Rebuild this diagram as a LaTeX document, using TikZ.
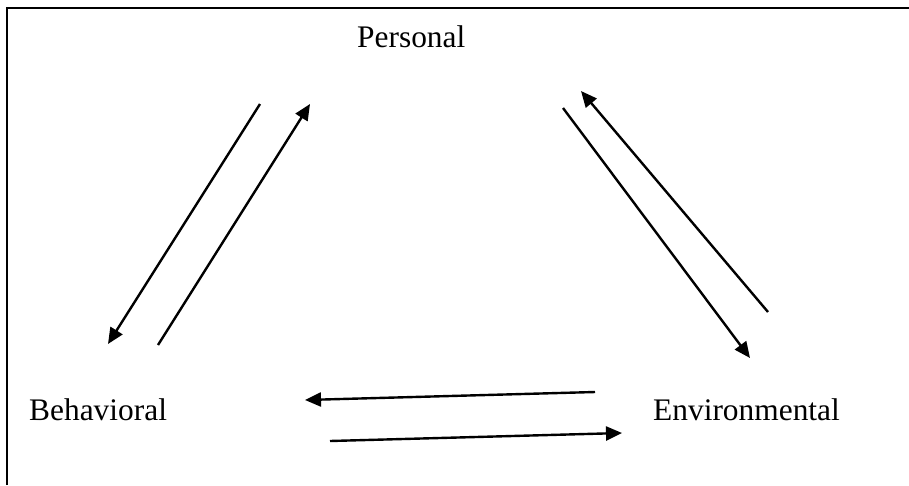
\documentclass[tikz,border=0pt]{standalone}
\usepackage{fontspec}
\setmainfont{Liberation Serif}
\usetikzlibrary{arrows.meta}
\begin{document}
\begin{tikzpicture}[x=1pt,y=-1pt,
  lbl/.style={anchor=base west,inner sep=0pt,font=\fontsize{31.4}{36}\selectfont},
  arr/.style={line width=2.4pt,-{Triangle[length=16pt,width=14pt]}},
  frame/.style={line width=2.4pt}]
\useasboundingbox (0,0) rectangle (909,485);
\draw[frame] (7,485) -- (7,8) -- (909,8);
\node[lbl] (per) at (357,47) {Personal};
\node[lbl] (beh) at (29,420) {Behavioral};
\node[lbl] (env) at (653,420) {Environmental};
% left pair
\coordinate (a1s) at (260,104); \coordinate (a1e) at (108,344);
\coordinate (a2s) at (158,345); \coordinate (a2e) at (310,104);
% right pair
\coordinate (a3s) at (768,312); \coordinate (a3e) at (581,91);
\coordinate (a4s) at (563,108); \coordinate (a4e) at (750,358);
% bottom pair
\coordinate (a5s) at (595,392); \coordinate (a5e) at (305,400);
\coordinate (a6s) at (330,441); \coordinate (a6e) at (622,433);
\draw[arr] (a1s) -- (a1e);
\draw[arr] (a2s) -- (a2e);
\draw[arr] (a3s) -- (a3e);
\draw[arr] (a4s) -- (a4e);
\draw[arr] (a5s) -- (a5e);
\draw[arr] (a6s) -- (a6e);
\end{tikzpicture}
\end{document}
